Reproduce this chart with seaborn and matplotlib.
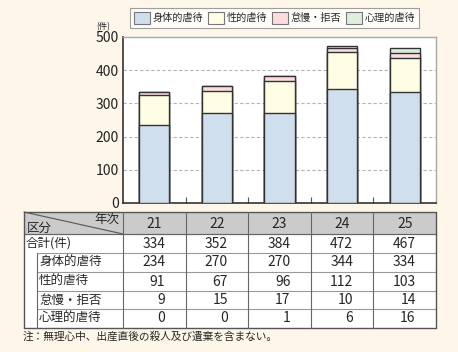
import numpy as np
import pandas as pd
import matplotlib
matplotlib.use("Agg")
import matplotlib.pyplot as plt
import seaborn as sns
from matplotlib.patches import Patch, Rectangle
from matplotlib.lines import Line2D

# data
years = ["21", "22", "23", "24", "25"]
physical = [234, 270, 270, 344, 334]     # 身体的虐待
sexual = [91, 67, 96, 112, 103]          # 性的虐待
neglect = [9, 15, 17, 10, 14]            # 怠慢・拒否
psych = [0, 0, 1, 6, 16]                 # 心理的虐待
totals = [334, 352, 384, 472, 467]       # 合計(件)
cat_names = ["身体的虐待", "性的虐待", "怠慢・拒否", "心理的虐待"]
cat_colors = ["#d0dfee", "#fffde3", "#fbdcdf", "#dcefdc"]
y_ticks = [0, 100, 200, 300, 400, 500]
note = "注：無理心中、出産直後の殺人及び遺棄を含まない。"

sns.set_style("white")
plt.rcParams["font.family"] = ["Noto Sans CJK JP", "DejaVu Sans"]

W, H = 458, 352
bg = "#fef6e8"
fig = plt.figure(figsize=(W / 100, H / 100), dpi=100, facecolor=bg)


def fx(x):
    return x / W


def fy(y):
    return 1 - y / H


# chart area
ax = fig.add_axes([fx(123), fy(203), fx(436) - fx(123), fy(37) - fy(203)])
ax.set_facecolor("white")

df = pd.DataFrame({"year": years, "physical": physical, "sexual": sexual,
                   "neglect": neglect, "psych": psych})
layers = [df["physical"], df["sexual"], df["neglect"], df["psych"]]
cum = np.cumsum(np.array(layers), axis=0)

# draw from the top layer down so lower parts cover upper
for i in range(3, -1, -1):
    sns.barplot(x=df["year"], y=cum[i], color=cat_colors[i], width=0.48,
                edgecolor="#333333", linewidth=1.0, saturation=1, ax=ax, zorder=3)

ax.set_xlim(-0.5, 4.5)
ax.set_ylim(0, 500)
ax.set_xlabel("")
ax.set_ylabel("")
ax.set_xticks([0.5, 1.5, 2.5, 3.5])
ax.set_xticklabels([])
ax.tick_params(axis="x", direction="in", length=4, width=0.8, color="#555555", bottom=True)
ax.set_yticks(y_ticks)
ax.set_yticklabels([str(v) for v in y_ticks], fontsize=10, color="#222222")
ax.tick_params(axis="y", length=0, pad=3)
ax.set_axisbelow(True)
for v in y_ticks[1:-1]:
    ax.axhline(v, color="#b5b5b5", lw=0.8, ls=(0, (3, 2)), zorder=1)
for s in ["left", "bottom"]:
    ax.spines[s].set_color("#333333")
    ax.spines[s].set_linewidth(1.2)
for s in ["top", "right"]:
    ax.spines[s].set_color("#a8a8a8")
    ax.spines[s].set_linewidth(1.0)

fig.text(fx(103), fy(27), "(件)", fontsize=6, ha="center", va="center")

# legend
handles = [Patch(facecolor=c, edgecolor="#777777", linewidth=0.8) for c in cat_colors]
leg = fig.legend(handles, cat_names, loc="center", bbox_to_anchor=(fx(274.5), fy(18)),
                 ncol=4, fontsize=7.3, frameon=True, fancybox=False,
                 handlelength=1.6, handleheight=1.5, handletextpad=0.25,
                 columnspacing=0.45, borderpad=0.35)
leg.get_frame().set_edgecolor("#888888")
leg.get_frame().set_linewidth(0.8)
leg.get_frame().set_facecolor("white")

# table
x0, xs, x1, xr = 24, 37, 123, 436
col_edges = list(np.linspace(x1, xr, len(years) + 1))
row_edges = [212, 234, 253, 272, 291, 309, 328]


def hline(xa, xb, y, c="#999999", lw=0.8):
    fig.add_artist(Line2D([fx(xa), fx(xb)], [fy(y), fy(y)], color=c, lw=lw))


def vline(x, ya, yb, c="#666666", lw=0.8):
    fig.add_artist(Line2D([fx(x), fx(x)], [fy(ya), fy(yb)], color=c, lw=lw))


fig.add_artist(Rectangle((fx(x0), fy(row_edges[-1])), fx(xr) - fx(x0),
                         fy(row_edges[1]) - fy(row_edges[-1]), facecolor="white",
                         edgecolor="none"))
fig.add_artist(Rectangle((fx(x0), fy(row_edges[1])), fx(xr) - fx(x0),
                         fy(row_edges[0]) - fy(row_edges[1]), facecolor="#cacbca",
                         edgecolor="none"))

hline(x0, xr, row_edges[0], "#555555", 1.0)
hline(x0, xr, row_edges[1], "#666666", 0.9)
for y in row_edges[2:-1]:
    hline(xs, xr, y)
hline(x0, xr, row_edges[-1], "#555555", 1.0)
vline(x0, row_edges[0], row_edges[-1], "#555555", 1.0)
vline(xs, row_edges[2], row_edges[-1])
for x in col_edges[:-1]:
    vline(x, row_edges[0], row_edges[-1])
vline(xr, row_edges[0], row_edges[-1], "#555555", 1.0)

# header diagonal
fig.add_artist(Line2D([fx(x0), fx(x1)], [fy(row_edges[0]), fy(row_edges[1])],
                      color="#555555", lw=0.8))
fig.text(fx(27), fy(228), "区分", fontsize=9, ha="left", va="center")
fig.text(fx(119), fy(219), "年次", fontsize=9, ha="right", va="center")

for j, yr in enumerate(years):
    cx = (col_edges[j] + col_edges[j + 1]) / 2
    fig.text(fx(cx), fy(224), yr, fontsize=10, ha="center", va="center")

row_labels = ["合計(件)"] + cat_names
row_values = [totals, physical, sexual, neglect, psych]
for i, (lab, vals) in enumerate(zip(row_labels, row_values)):
    cy = (row_edges[i + 1] + row_edges[i + 2]) / 2
    lx = 26 if i == 0 else 39
    fig.text(fx(lx), fy(cy), lab, fontsize=9, ha="left", va="center")
    for j, v in enumerate(vals):
        cx = (col_edges[j] + col_edges[j + 1]) / 2
        fig.text(fx(cx + 11), fy(cy), str(v), fontsize=10, ha="right", va="center")

fig.text(fx(23), fy(336), note, fontsize=7.7, ha="left", va="center")

fig.savefig("out.png", dpi=100, facecolor=bg)
